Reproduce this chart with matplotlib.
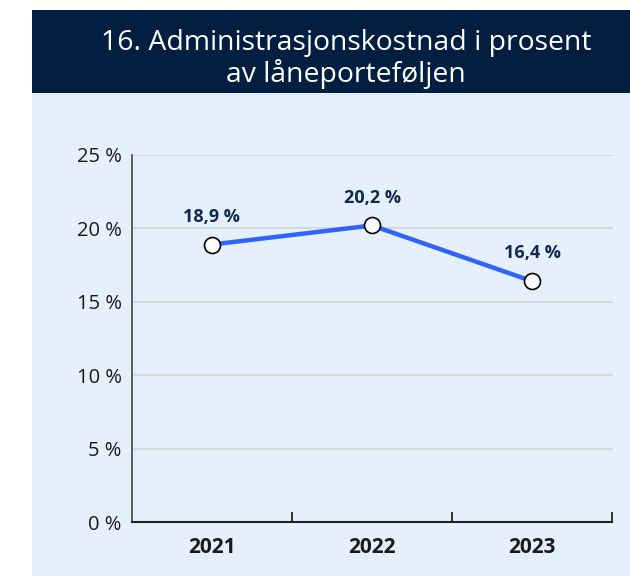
import matplotlib
matplotlib.use("Agg")
import matplotlib.pyplot as plt
from matplotlib.patches import Rectangle

# data
years = ["2021", "2022", "2023"]
values = [18.9, 20.2, 16.4]
value_labels = ["18,9 %", "20,2 %", "16,4 %"]
y_ticks = [0, 5, 10, 15, 20, 25]
y_tick_labels = ["0 %", "5 %", "10 %", "15 %", "20 %", "25 %"]
title = "16. Administrasjonskostnad i prosent\nav låneporteføljen"

NAVY = "#021f42"
PANEL = "#e6f0fc"
LINE = "#2f63fb"
LABEL = "#0e2a4e"

plt.rcParams["font.family"] = ["Open Sans", "DejaVu Sans"]

W, H = 630, 576
fig = plt.figure(figsize=(W / 100, H / 100), dpi=100)
fig.patch.set_facecolor("white")

# panel background and header band (figure pixel coordinates -> fractions)
fig.add_artist(Rectangle((32 / W, 0), 1 - 32 / W, (576 - 93) / H,
                         transform=fig.transFigure, facecolor=PANEL, edgecolor="none", zorder=0))
fig.add_artist(Rectangle((32 / W, (576 - 93) / H), 1 - 32 / W, 83 / H,
                         transform=fig.transFigure, facecolor=NAVY, edgecolor="none", zorder=0))
fig.text(346 / W, 1 - 59 / H, title, color="white", fontsize=20.4, ha="center", va="center",
         linespacing=1.1)

ax = fig.add_axes([131.5 / W, (576 - 522) / H, 481 / W, 367 / H])
ax.set_facecolor("none")
x = list(range(len(years)))
ax.plot(x, values, color=LINE, linewidth=3.2, zorder=3, solid_capstyle="round")
ax.plot(x, values, linestyle="none", marker="o", markersize=11.5, markerfacecolor="white",
        markeredgecolor="black", markeredgewidth=1.2, zorder=4)
for xi, v, lab in zip(x, values, value_labels):
    ax.annotate(lab, (xi, v), xytext=(0, 20), textcoords="offset points", ha="center", va="center",
                fontsize=13, fontweight="bold", color=LABEL)

ax.set_xlim(-0.5, 2.5)
ax.set_ylim(0, 25)
ax.set_yticks(y_ticks)
ax.set_yticklabels(y_tick_labels)
ax.tick_params(axis="y", length=0, pad=7, labelsize=14.5, labelcolor="#1a1a1a")
ax.set_xticks([0.5, 1.5, 2.5])
ax.set_xticklabels([])
ax.set_xticks(x, minor=True)
ax.set_xticklabels(years, minor=True)
ax.tick_params(axis="x", which="major", direction="in", length=7, width=1.3, color="#222222")
ax.tick_params(axis="x", which="minor", length=0, pad=11, labelsize=15, labelcolor="#1a1a1a")
for lab in ax.get_xticklabels(minor=True):
    lab.set_fontweight("bold")

for yt in y_ticks[1:]:
    ax.axhline(yt, color="#cfd2d6", linewidth=1.1, zorder=1)
ax.spines["top"].set_visible(False)
ax.spines["right"].set_visible(False)
ax.spines["left"].set_color("#444444")
ax.spines["left"].set_linewidth(1.2)
ax.spines["bottom"].set_color("#222222")
ax.spines["bottom"].set_linewidth(1.5)

fig.savefig("out.png", dpi=100)
